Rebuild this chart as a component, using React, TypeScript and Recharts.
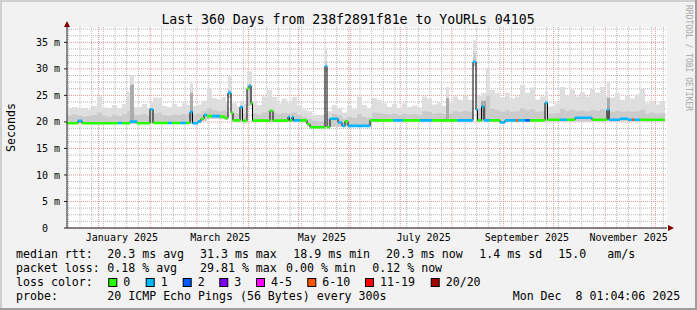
import { ComposedChart, Area, Line, XAxis, YAxis, CartesianGrid } from 'recharts'

const MONO = '"DejaVu Sans Mono", monospace'

// x is in days since graph start (Dec 13 2024 01:04), 360 days wide
const monthStarts = [18.96, 49.96, 77.96, 108.96, 138.96, 169.96, 199.96, 230.96, 261.96, 291.96, 322.96, 352.96]
const labelDays = [32.96, 91.96, 152.96, 213.96, 275.96, 336.96]
const labelNames = ['January 2025', 'March 2025', 'May 2025', 'July 2025', 'September 2025', 'November 2025']
const yTicks = [0, 5, 10, 15, 20, 25, 30, 35]

const lossColors = ['#26ff00', '#00b8ff', '#0059ff', '#7e00ff', '#ff00ff', '#ff5500', '#ff0000', '#a00000']
const lossLabels = ['0', '1', '2', '3', '4-5', '6-10', '11-19', '20/20']

// median rtt (ms), one step per entry, colour index = loss bucket
const medDay = [0, 6.6, 9, 30.6, 33, 37.8, 42, 49.8, 51.6, 60.6, 63, 67.8, 71.4, 73.8, 75.3, 78.6, 80.4, 82.2, 84, 87, 91.8, 94.8, 96.6, 98.4, 99.6, 103.8, 105.3, 108, 109.2, 110.4, 111.3, 121.8, 123.6, 132.6, 133.5, 135, 135.9, 139.8, 144, 145.8, 154.8, 156, 157.8, 162.6, 165, 166.8, 168.6, 181.8, 195.6, 201.6, 211.8, 219, 234, 243.6, 245.4, 246.3, 248.7, 250.2, 253.8, 259.8, 262.8, 269.4, 270.6, 274.8, 277.8, 286.8, 288.3, 295.8, 300, 304.8, 315, 324, 325.2, 331.8, 336.6, 339, 340.2, 343.8, 358.8]
const medMs = [19.75, 20.2, 19.75, 19.8, 19.75, 20.05, 19.75, 22.4, 19.8, 19.8, 19.8, 19.8, 19.8, 21.9, 19.75, 20.1, 20.6, 21.3, 21.1, 21.1, 21.0, 20.7, 25.5, 21.7, 20.3, 22.8, 20.2, 26.3, 26.8, 23.5, 20.25, 22.1, 20.25, 20.9, 20.25, 20.9, 20.3, 20.3, 19.6, 19.0, 30.5, 19.0, 20.6, 19.9, 19.25, 20.1, 19.25, 20.3, 20.3, 20.3, 20.3, 20.3, 20.3, 31.35, 22.3, 20.3, 22.9, 20.3, 20.3, 19.9, 20.3, 20.3, 20.3, 20.3, 20.3, 23.6, 20.4, 20.4, 20.4, 20.8, 20.4, 22.3, 20.4, 20.6, 20.4, 20.4, 20.4, 20.4, 20.4]
const medLoss = [0, 1, 0, 1, 0, 1, 0, 1, 0, 1, 0, 1, 0, 1, 1, 1, 0, 1, 0, 1, 0, 0, 1, 0, 0, 1, 0, 0, 1, 0, 0, 0, 0, 1, 0, 1, 1, 0, 0, 0, 1, 0, 1, 1, 1, 0, 1, 0, 1, 0, 1, 0, 1, 1, 1, 0, 1, 1, 0, 1, 1, 5, 1, 2, 0, 1, 0, 1, 0, 1, 0, 1, 1, 1, 1, 5, 1, 0, 0]

// smoke (ping spread) bands
const smokeDay = [0, 3, 6, 9, 12, 15, 18, 21, 24, 27, 30, 33, 36, 37.8, 40.2, 45, 48, 49.8, 51.6, 54.6, 57, 60, 63, 66, 69, 72, 73.8, 75.6, 78, 81, 84, 87, 90, 93, 95.4, 96.6, 98.4, 102, 103.8, 105.6, 108, 111, 114, 117, 120, 123, 126, 129, 132, 135, 138, 141, 144, 147, 150.6, 154.8, 156, 159, 162, 165, 168, 171, 174, 177, 180, 183, 186, 189, 192, 195, 198, 201, 204, 207, 210, 213, 216, 219, 222, 225, 227.4, 229.2, 231.6, 234.6, 237.6, 240.6, 243.6, 245.4, 248.4, 251.4, 253.8, 256.8, 259.8, 262.8, 265.8, 268.8, 271.8, 274.8, 277.8, 280.8, 283.8, 286.8, 288.6, 292.8, 295.8, 298.8, 301.8, 304.8, 307.8, 310.8, 313.8, 316.8, 319.8, 322.8, 324, 325.8, 328.8, 331.8, 334.8, 337.8, 340.8, 343.8, 346.8, 349.8, 352.8, 355.8, 358.8]
const smokeTop = [22.6, 22.8, 22.4, 22.6, 22.3, 23.0, 24.8, 22.7, 22.5, 23.2, 22.6, 23.4, 25.7, 28.8, 22.8, 23.4, 22.7, 23.8, 24.6, 24.5, 23.0, 22.8, 23.4, 22.9, 23.5, 23.2, 27.3, 23.0, 23.3, 24.0, 26.4, 24.5, 24.3, 24.7, 23.8, 28.6, 23.5, 22.9, 24.0, 23.4, 29.5, 24.0, 23.2, 24.8, 26.0, 24.7, 23.5, 24.4, 23.6, 24.7, 23.0, 22.3, 22.0, 21.3, 21.2, 33.7, 22.0, 23.2, 22.5, 21.8, 23.0, 22.4, 24.8, 23.2, 22.6, 24.5, 24.2, 23.5, 22.8, 23.4, 22.6, 23.5, 22.8, 23.1, 22.7, 24.8, 24.4, 23.3, 23.6, 23.0, 26.6, 23.5, 24.8, 24.2, 24.9, 24.2, 35.4, 25.0, 25.5, 30.1, 26.0, 25.5, 24.6, 25.5, 24.4, 24.8, 27.0, 25.5, 26.5, 24.2, 24.8, 25.8, 22.9, 23.5, 26.6, 25.0, 26.0, 24.8, 25.6, 24.8, 26.2, 25.5, 26.6, 25.0, 27.6, 24.6, 25.5, 24.2, 25.0, 24.4, 25.2, 26.2, 23.5, 24.0, 23.3, 23.9, 23.9]
const smokeMid = [21.2, 21.4, 21.2, 21.0, 21.1, 21.3, 21.8, 21.2, 21.0, 21.4, 21.1, 21.5, 22.0, 24.5, 21.3, 21.5, 21.2, 22.0, 21.6, 21.8, 21.3, 21.2, 21.4, 21.3, 21.5, 21.5, 23.5, 21.4, 21.6, 22.0, 22.6, 22.2, 22.0, 22.2, 21.9, 26.0, 21.6, 21.5, 22.8, 21.6, 27.0, 21.6, 21.4, 21.8, 22.2, 21.8, 21.5, 21.7, 21.6, 21.8, 21.3, 21.0, 20.6, 20.2, 20.1, 31.5, 20.8, 21.5, 21.2, 20.6, 21.0, 20.8, 21.5, 21.0, 20.8, 21.8, 21.7, 21.5, 21.4, 21.6, 21.3, 21.6, 21.4, 21.5, 21.3, 22.0, 21.9, 21.6, 21.7, 21.5, 23.5, 21.6, 22.0, 21.9, 22.1, 21.9, 33.0, 22.6, 23.0, 25.0, 22.5, 22.2, 21.9, 22.2, 21.9, 22.0, 22.6, 22.2, 22.4, 21.9, 22.0, 23.6, 21.6, 21.7, 22.5, 22.1, 22.3, 22.0, 22.2, 22.0, 22.3, 22.1, 22.4, 22.0, 23.8, 21.9, 22.1, 21.9, 22.0, 21.9, 22.0, 22.3, 21.6, 21.8, 21.6, 21.7, 21.7]
const smokeLow = [19.6, 19.6, 19.6, 19.6, 19.6, 19.6, 19.6, 19.6, 19.6, 19.6, 19.6, 19.6, 19.6, 19.6, 19.6, 19.6, 19.6, 19.6, 19.6, 19.6, 19.6, 19.6, 19.6, 19.6, 19.6, 19.6, 19.6, 19.6, 19.8, 20.2, 20.6, 20.6, 20.6, 20.5, 20.4, 24.5, 20.0, 20.0, 20.0, 20.0, 23.0, 20.0, 20.0, 20.0, 20.0, 20.0, 20.0, 20.0, 20.0, 20.0, 20.0, 19.9, 19.2, 18.9, 18.9, 29.5, 19.1, 19.1, 19.1, 19.1, 19.1, 19.1, 19.1, 19.1, 19.1, 20.1, 20.1, 20.1, 20.1, 20.1, 20.1, 20.1, 20.1, 20.1, 20.1, 20.1, 20.1, 20.1, 20.1, 20.1, 20.1, 20.1, 20.1, 20.1, 20.1, 20.1, 30.5, 20.1, 20.1, 20.1, 20.1, 20.1, 19.8, 20.1, 20.1, 20.1, 20.1, 20.1, 20.1, 20.1, 20.1, 20.1, 20.1, 20.1, 20.1, 20.1, 20.1, 20.1, 20.1, 20.1, 20.1, 20.1, 20.1, 20.1, 20.1, 20.1, 20.1, 20.1, 20.1, 20.1, 20.1, 20.1, 20.1, 20.1, 20.1, 20.1, 20.1]

// darker smoke streaks
const darkFrom = [37.8, 73.8, 227.4, 248.4, 324]
const darkTo = [40.2, 75.6, 229.2, 251.4, 325.8]
const darkLow = [20.0, 20.2, 20.5, 20.5, 20.5]
const darkTop = [27.0, 25.5, 24.5, 24.0, 24.5]

// steps drawn as flat pieces so the range areas keep their edges
const smokeData = smokeDay.slice(0, -1).flatMap((d, i) => {
  const p = { light: [smokeLow[i], smokeTop[i]], mid: [smokeLow[i], smokeMid[i]] }
  return [{ d, ...p }, { d: smokeDay[i + 1], ...p }]
})

const darkData = darkFrom.flatMap((s, i) => [
  { d: s, band: [darkLow[i], darkTop[i]] },
  { d: darkTo[i], band: [darkLow[i], darkTop[i]] },
  { d: darkTo[i], band: null },
])

const medData = medDay.map((d, i) => ({ d, v: medMs[i] }))

const segData = lossColors.map((_, c) => {
  const out: { d: number; v: number | null }[] = []
  for (let i = 0; i < medDay.length - 1; i++) {
    if (medLoss[i] !== c) continue
    out.push({ d: medDay[i], v: medMs[i] }, { d: medDay[i + 1], v: medMs[i] }, { d: medDay[i + 1], v: null })
  }
  return out
})

const weekLines = Array.from({ length: 52 }, (_, k) => 0.8 + 7 * k).filter(d => !monthStarts.some(m => Math.abs(m - d) < 1))
const minorY = Array.from({ length: 31 }, (_, k) => k * 1.25).filter(v => v % 5 !== 0)

const NB = '\u00a0'
const row1: [number, string][] = [[16, 'median rtt:'], [107.3, '20.3 ms avg'], [200, '31.3 ms max'], [293.3, '18.9 ms min'], [386, '20.3 ms now'], [479.3, '1.4 ms sd'], [558.3, '15.0'], [607.3, 'am/s']]
const row2: [number, string][] = [[16, 'packet loss:'], [107.3, '0.18 % avg'], [200, '29.81 % max'], [286, '0.00 % min'], [372.3, '0.12 % now']]
const boxX = [108.3, 145.7, 182.7, 219.3, 256, 307.3, 365, 430.7]

export default function App() {
  return (
    <div style={{ position: 'absolute', left: 0, top: 0, width: 697, height: 310, background: '#f2f2f2', overflow: 'hidden' }}>
      <svg width={697} height={310} style={{ position: 'absolute', left: 0, top: 0 }}>
        <rect x={0} y={0} width={697} height={2} fill="#cfcfcf" />
        <rect x={0} y={0} width={2} height={310} fill="#cfcfcf" />
        <rect x={0} y={308} width={697} height={2} fill="#9e9e9e" />
        <rect x={695} y={0} width={2} height={310} fill="#9e9e9e" />
        <rect x={67} y={27} width={600} height={201} fill="#ffffff" />
      </svg>
      <div style={{ position: 'absolute', left: 0, top: 0 }}>
        <ComposedChart width={697} height={310} margin={{ top: 27, right: 30, bottom: 0, left: 0 }}>
          <CartesianGrid horizontalValues={minorY} verticalValues={weekLines} stroke="#b4b4b4" strokeDasharray="1 1" />
          <CartesianGrid horizontalValues={yTicks} verticalValues={monthStarts} stroke="#eb9696" strokeDasharray="1 1" />
          <XAxis
            type="number"
            dataKey="d"
            domain={[0, 360]}
            allowDataOverflow
            ticks={labelDays}
            tickFormatter={(v: number) => labelNames[labelDays.indexOf(v)] ?? ''}
            tickLine={false}
            tickSize={0}
            tickMargin={6}
            height={82}
            interval={0}
            axisLine={{ stroke: '#212121' }}
            tick={{ fontSize: 10, fontFamily: MONO, fill: '#000' }}
          />
          <YAxis
            type="number"
            domain={[0, 37.9]}
            allowDataOverflow
            ticks={yTicks}
            tickFormatter={(v: number) => (v === 0 ? `0${NB}${NB}` : `${v} m`)}
            width={67}
            tickSize={3}
            tickMargin={4}
            interval={0}
            axisLine={{ stroke: '#212121' }}
            tickLine={{ stroke: '#212121' }}
            tick={{ fontSize: 10, fontFamily: MONO, fill: '#000' }}
          />
          <Area data={smokeData} dataKey="light" type="linear" stroke="none" fill="#dedede" fillOpacity={1} isAnimationActive={false} dot={false} activeDot={false} />
          <Area data={smokeData} dataKey="mid" type="linear" stroke="none" fill="#cbcbcb" fillOpacity={1} isAnimationActive={false} dot={false} activeDot={false} />
          <Area data={darkData} dataKey="band" type="linear" stroke="none" fill="#acacac" fillOpacity={1} connectNulls={false} isAnimationActive={false} dot={false} activeDot={false} />
          <Line data={medData} dataKey="v" type="stepAfter" stroke="#000" strokeWidth={1} dot={false} activeDot={false} isAnimationActive={false} />
          {segData.map((seg, c) =>
            seg.length ? (
              <Line key={c} data={seg} dataKey="v" type="linear" stroke={lossColors[c]} strokeWidth={2.6} connectNulls={false} dot={false} activeDot={false} isAnimationActive={false} />
            ) : null,
          )}
        </ComposedChart>
      </div>
      <svg width={697} height={310} style={{ position: 'absolute', left: 0, top: 0, fontFamily: MONO }}>
        <polygon points="64,27 70,27 67,21" fill="#800000" />
        <polygon points="668,225 668,231 674,228" fill="#800000" />
        <text x={348} y={24} fontSize={13.2} textAnchor="middle" fill="#000">
          Last 360 Days from 238f2891f81e to YoURLs 04105
        </text>
        <text transform="translate(11,127.5) rotate(-90)" fontSize={11.6} textAnchor="middle" dominantBaseline="central" fill="#000">
          Seconds
        </text>
        <text transform="translate(688.5,5) rotate(90)" fontSize={8} dominantBaseline="central" fill="#a8a8a8">
          RRDTOOL / TOBI OETIKER
        </text>
        <g fontSize={11.6} fill="#000">
          {row1.map(([x, t]) => (
            <text key={t} x={x} y={258.3}>{t}</text>
          ))}
          {row2.map(([x, t]) => (
            <text key={t} x={x} y={272.3}>{t}</text>
          ))}
          <text x={16} y={286.3}>loss color:</text>
          {lossLabels.map((l, i) => (
            <g key={l}>
              <rect x={boxX[i] + 0.5} y={278.5} width={8} height={8} fill={lossColors[i]} stroke="#000" strokeWidth={1} />
              <text x={boxX[i] + 15} y={286.3}>{l}</text>
            </g>
          ))}
          <text x={16} y={300.3}>probe:</text>
          <text x={107.3} y={300.3}>20 ICMP Echo Pings (56 Bytes) every 300s</text>
          <text x={512.7} y={300.3}>{`Mon Dec${NB}${NB}8 01:04:06 2025`}</text>
        </g>
      </svg>
    </div>
  )
}
